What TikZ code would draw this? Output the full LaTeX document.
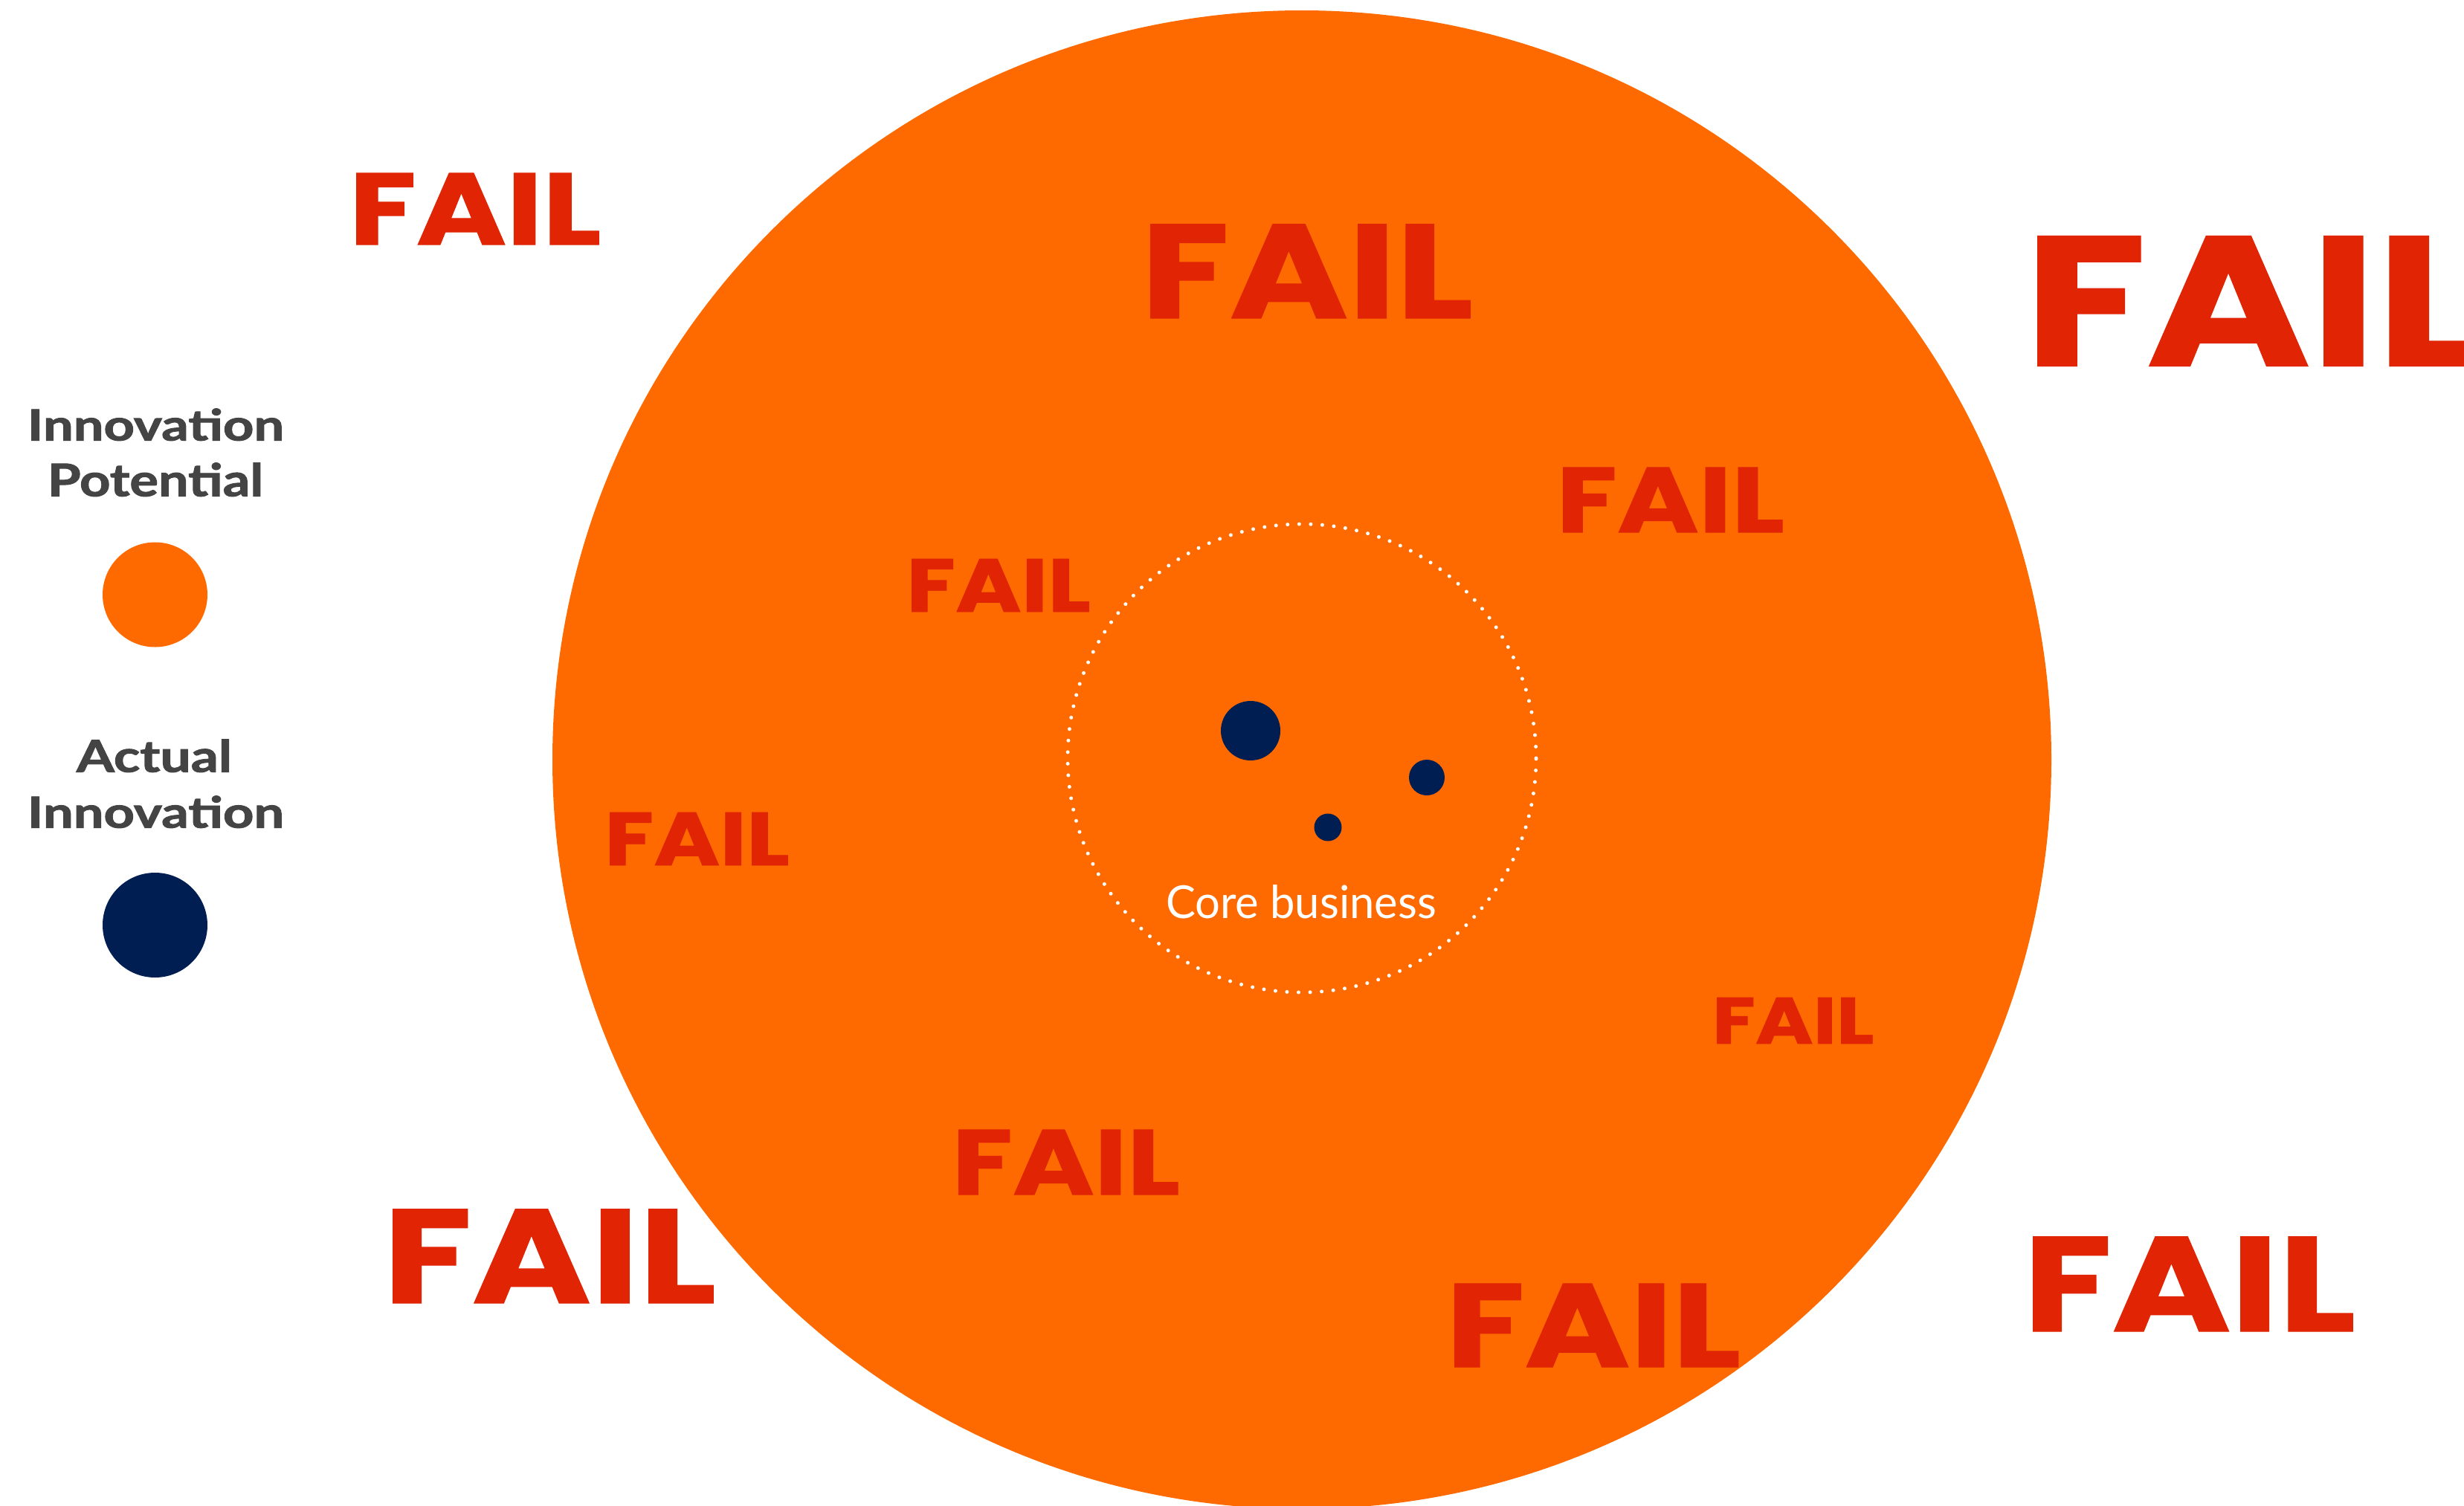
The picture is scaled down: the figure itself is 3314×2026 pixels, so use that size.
\documentclass[tikz,border=0pt]{standalone}
\usepackage{fontspec}
\usepackage{graphicx}
\newfontfamily\failfont{Poppins}[BoldFeatures={FakeBold=0.8}]
\newfontfamily\labelfont{Lato}
\newfontfamily\legendfont{Lato}[BoldFeatures={FakeBold=1.6}]

\definecolor{potential}{HTML}{FF6A00}
\definecolor{failred}{HTML}{E02404}
\definecolor{innovnavy}{HTML}{001E52}
\definecolor{labelgray}{HTML}{444444}

% a text line stretched to the given width and height (pt)
\newcommand\fitline[3]{\resizebox{#1pt}{#2pt}{#3}}
% a FAIL mark whose ink spans width #4 and cap height #5 from (#2,#3) = left end of baseline
\newcommand\failat[5]{%
  \pgfmathsetmacro\failw{#4/0.957}%
  \pgfmathsetmacro\failx{#2-0.028*\failw}%
  \node[failtext] (#1) at (\failx,#3) {\resizebox{\failw pt}{#5pt}{\failfont\bfseries FAIL}};}

\tikzset{
  failtext/.style={anchor=south west, inner sep=0pt, outer sep=0pt, text=failred},
  legendtext/.style={anchor=south west, inner sep=0pt, outer sep=0pt, text=labelgray,
                     font=\legendfont\bfseries},
  coretext/.style={anchor=south west, inner sep=0pt, outer sep=0pt, text=white,
                   font=\labelfont},
  disc/.style={circle, inner sep=0pt, outer sep=0pt, draw=none, minimum size=#1},
  dotring/.style={draw=white, line width=5pt, line cap=round,
                  dash pattern=on 0pt off 15.58pt}
}

\begin{document}
\begin{tikzpicture}[x=1pt, y=-1pt]
  \useasboundingbox (0,0) rectangle (3314,2026);
  \clip (0,0) rectangle (3314,2026);

  % innovation potential
  \node[disc=2016pt, fill=potential] (potential) at (1751,1022) {};

  % core business boundary
  \coordinate (core) at (1751,1020);
  \draw[dotring] (core) circle (315pt);

  % actual innovations
  \node[disc=80pt, fill=innovnavy] (inno1) at (1682,983) {};
  \node[disc=48pt, fill=innovnavy] (inno2) at (1919,1046) {};
  \node[disc=37pt, fill=innovnavy] (inno3) at (1786,1113) {};

  \node[coretext] (corelabel) at (1568,1236) {\fitline{364}{45}{Core business}};

  % FAIL marks
  \failat{fail1}{479}{329}{324}{96}
  \failat{fail2}{1547}{428}{427}{126}
  \failat{fail3}{2740}{492}{588}{174}
  \failat{fail4}{2102}{716}{293}{87}
  \failat{fail5}{1226}{823}{237}{71}
  \failat{fail6}{820}{1164}{238}{71}
  \failat{fail7}{2309}{1404}{208}{62}
  \failat{fail8}{1289}{1607}{293}{87}
  \failat{fail9}{528}{1753}{428}{126}
  \failat{fail10}{1956}{1839}{379}{112}
  \failat{fail11}{2734}{1791}{427}{127}

  % legend
  \node[legendtext] (leg1a) at (37,593)  {\fitline{345}{43}{Innovation}};
  \node[legendtext] (leg1b) at (64,668)  {\fitline{290}{45}{Potential}};
  \node[disc=141pt, fill=potential] (legdot1) at (208.5,800) {};

  \node[legendtext] (leg2a) at (103,1039) {\fitline{209}{44}{Actual}};
  \node[legendtext] (leg2b) at (37,1114)  {\fitline{345}{43}{Innovation}};
  \node[disc=141pt, fill=innovnavy] (legdot2) at (208.5,1244.5) {};
\end{tikzpicture}
\end{document}
